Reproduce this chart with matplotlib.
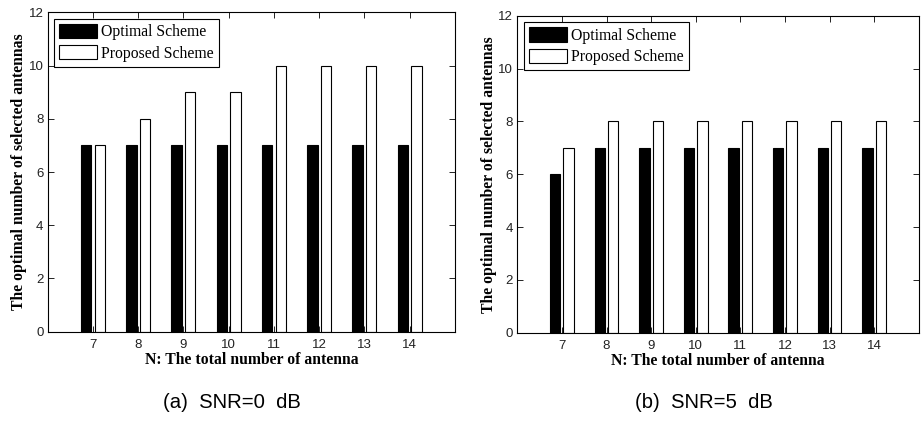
import numpy as np
import matplotlib.pyplot as plt

# total number of antennas N
n_antenna = [7, 8, 9, 10, 11, 12, 13, 14]

# SNR = 0 dB
optimal_0db = [7, 7, 7, 7, 7, 7, 7, 7]
proposed_0db = [7, 8, 9, 9, 10, 10, 10, 10]

# SNR = 5 dB
optimal_5db = [6, 7, 7, 7, 7, 7, 7, 7]
proposed_5db = [7, 8, 8, 8, 8, 8, 8, 8]

captions = ['(a)  SNR=0  dB', '(b)  SNR=5  dB']

serif = 'Liberation Serif'
sans = 'Liberation Sans'

fig = plt.figure(figsize=(9.24, 4.21), dpi=100)
W, H = 924, 421
# axes boxes in pixels: left, top, right, bottom
boxes = [(47.7, 12.3, 455, 331.7), (517.3, 15.7, 918.7, 332.7)]
caption_x = [232, 704]
data = [(optimal_0db, proposed_0db), (optimal_5db, proposed_5db)]

for (l, t, r, b), (opt, prop), cap, cx in zip(boxes, data, captions, caption_x):
    ax = fig.add_axes([l / W, 1 - b / H, (r - l) / W, (b - t) / H])
    x = np.array(n_antenna)
    ax.bar(x - 0.15, opt, width=0.23, color='black', edgecolor='black', linewidth=0.8,
           label='Optimal Scheme')
    ax.bar(x + 0.15, prop, width=0.23, color='white', edgecolor='black', linewidth=0.8,
           label='Proposed Scheme')
    ax.set_xlim(6, 15)
    ax.set_ylim(0, 12)
    ax.set_xticks(n_antenna)
    ax.set_yticks(range(0, 13, 2))
    ax.tick_params(direction='in', top=True, right=True, length=4, width=0.7,
                   labelsize=9.5, colors='#222222')
    ax.tick_params(axis='x', pad=5)
    ax.tick_params(axis='y', pad=3)
    for lab in ax.get_xticklabels() + ax.get_yticklabels():
        lab.set_fontfamily(sans)
    for s in ax.spines.values():
        s.set_linewidth(0.8)
    ax.set_xlabel('N: The total number of antenna', fontfamily=serif, fontweight='bold',
                  fontsize=11.3, labelpad=1)
    ax.set_ylabel('The optimal number of selected antennas', fontfamily=serif,
                  fontweight='bold', fontsize=11.3, labelpad=1)
    leg = ax.legend(loc='upper left', prop={'family': serif, 'size': 11.3},
                    fancybox=False, edgecolor='black', framealpha=1,
                    handlelength=2.4, handleheight=1.0, handletextpad=0.25,
                    borderpad=0.35, labelspacing=0.3, borderaxespad=0.4)
    leg.get_frame().set_linewidth(0.8)
    fig.text(cx / W, 1 - 402 / H, cap, ha='center', va='center',
             fontfamily=sans, fontsize=14.6)

fig.savefig('out.png', dpi=100)
